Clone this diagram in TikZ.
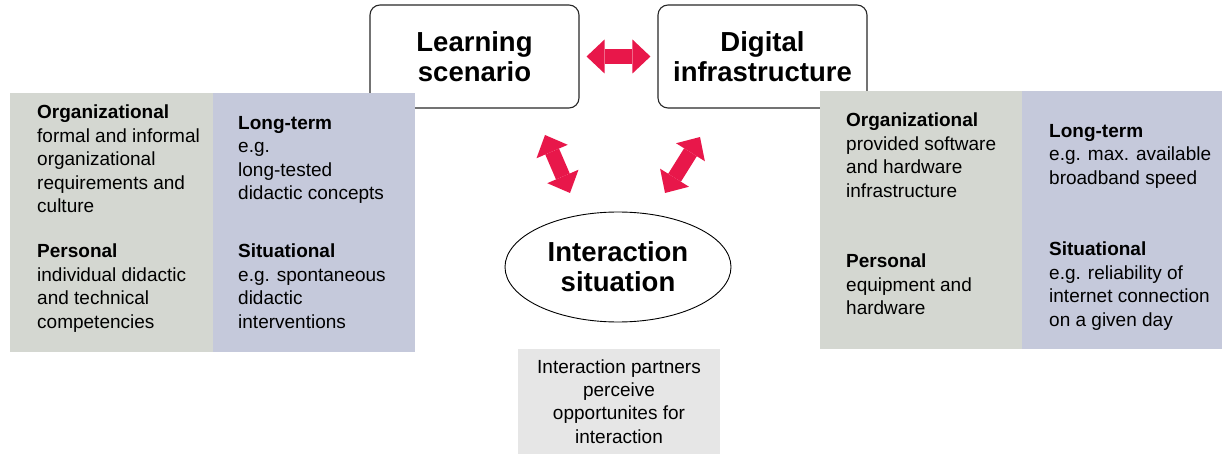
\documentclass[tikz,border=0pt]{standalone}
\usepackage{fontspec}
\setmainfont{Liberation Sans}
\usetikzlibrary{shapes.geometric,arrows.meta}

\definecolor{arrowred}{RGB}{232,23,74}
\definecolor{panelgray}{RGB}{212,215,209}
\definecolor{panelblue}{RGB}{197,201,219}
\definecolor{notegray}{RGB}{230,230,230}
\definecolor{edgegray}{RGB}{40,40,40}

\tikzset{
  titlebox/.style={draw=edgegray, line width=1.1pt, rounded corners=10pt, fill=white,
    minimum width=209pt, minimum height=103pt, inner sep=0pt, align=center,
    font=\fontsize{27.5}{30}\selectfont\bfseries},
  situation/.style={ellipse, draw=black, line width=0.9pt, fill=white,
    minimum width=226pt, minimum height=110pt, inner sep=0pt, align=center,
    font=\fontsize{27.5}{30}\selectfont\bfseries},
  notebox/.style={fill=notegray, minimum width=202pt, minimum height=105pt,
    inner sep=0pt, align=center, font=\fontsize{19}{23.3}\selectfont},
  factor/.style={anchor=north west, inner sep=0pt, align=left,
    font=\fontsize{19}{23.5}\selectfont},
  bigarrow/.style={draw=arrowred, line width=15pt,
    {Triangle[length=18pt,width=34pt,line width=0pt]}-{Triangle[length=18pt,width=34pt,line width=0pt]}}
}

\begin{document}
\begin{tikzpicture}[x=1pt,y=-1pt]
  \useasboundingbox (0,0) rectangle (1223,454);

  % the two framing factors
  \node[titlebox] (ls) at (474.5,56.5) {Learning\\scenario};
  \node[titlebox] (di) at (762.5,56.5) {Digital\\infrastructure};

  % factor panel of the learning scenario
  \fill[panelgray] (10,93) rectangle (213,352);
  \fill[panelblue] (213,93) rectangle (415,352);
  \node[factor] (lorg) at (37,105)
    {\textbf{Organizational}\\formal and informal\\organizational\\requirements and\\culture};
  \node[factor] (lper) at (37,244)
    {\textbf{Personal}\\individual didactic\\and technical\\competencies};
  \node[factor] (llong) at (238,116)
    {\textbf{Long-term}\\e.g.\\long-tested\\didactic concepts};
  \node[factor] (lsit) at (238,244)
    {\textbf{Situational}\\e.g. spontaneous\\didactic\\interventions};

  % factor panel of the digital infrastructure
  \fill[panelgray] (820,91) rectangle (1022,349);
  \fill[panelblue] (1022,91) rectangle (1222,349);
  \node[factor] (rorg) at (846,113)
    {\textbf{Organizational}\\provided software\\and hardware\\infrastructure};
  \node[factor] (rper) at (846,254)
    {\textbf{Personal}\\equipment and\\hardware};
  \node[factor] (rlong) at (1049,124)
    {\textbf{Long-term}\\e.g. max. available\\broadband speed};
  \node[factor] (rsit) at (1049,242)
    {\textbf{Situational}\\e.g. reliability of\\internet connection\\on a given day};

  % the interaction situation and its note
  \node[situation] (is) at (618,267) {Interaction\\situation};
  \node[notebox] (note) at (619,401.5)
    {Interaction partners\\perceive\\opportunites for\\interaction};

  % mutual influences
  \coordinate (lsA) at (545,135);
  \coordinate (isA) at (570,193);
  \coordinate (diB) at (700,137);
  \coordinate (isB) at (665,193);
  \draw[bigarrow, shorten <=7pt, shorten >=7pt] (ls.east) -- (di.west);
  \draw[bigarrow] (lsA) -- (isA);
  \draw[bigarrow] (diB) -- (isB);
\end{tikzpicture}
\end{document}
